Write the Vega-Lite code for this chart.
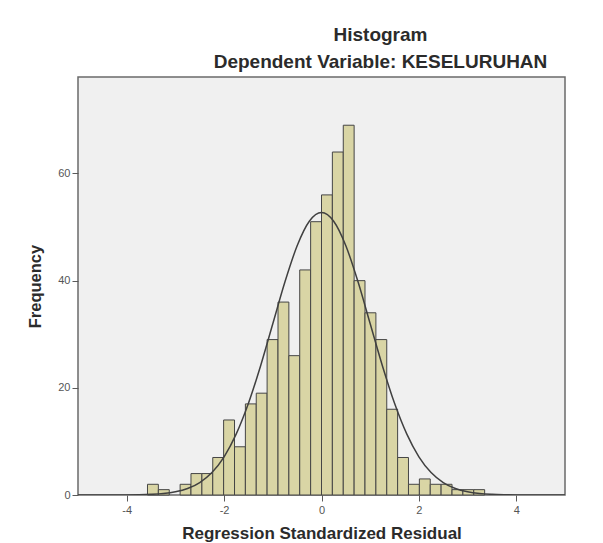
{
  "$schema": "https://vega.github.io/schema/vega-lite/v6.json",
  "width": 487,
  "height": 418,
  "autosize": "none",
  "padding": {"left": 78, "top": 77, "right": 38, "bottom": 48},
  "background": "#ffffff",
  "title": {
    "text": "Histogram",
    "subtitle": "Dependent Variable: KESELURUHAN",
    "anchor": "middle",
    "frame": "group",
    "dx": 59,
    "offset": 5,
    "font": "Liberation Sans",
    "fontSize": 19,
    "fontWeight": "bold",
    "color": "#2b2b2b",
    "subtitleFont": "Liberation Sans",
    "subtitleFontSize": 19,
    "subtitleFontWeight": "bold",
    "subtitleColor": "#2b2b2b",
    "subtitlePadding": 8
  },
  "config": {
    "font": "Liberation Sans",
    "view": {"stroke": "#6a6a6a", "strokeWidth": 1.5, "fill": "#f0f0f0"},
    "axis": {
      "grid": false,
      "domain": false,
      "tickColor": "#5a5a5a",
      "tickSize": 6,
      "labelColor": "#555555",
      "labelFontSize": 11,
      "titleColor": "#2b2b2b",
      "titleFontWeight": "bold"
    }
  },
  "datasets": {
    "bins": [
      {"bin_start": -3.573, "bin_end": -3.350, "count": 2},
      {"bin_start": -3.350, "bin_end": -3.126, "count": 1},
      {"bin_start": -2.903, "bin_end": -2.680, "count": 2},
      {"bin_start": -2.680, "bin_end": -2.456, "count": 4},
      {"bin_start": -2.456, "bin_end": -2.233, "count": 4},
      {"bin_start": -2.233, "bin_end": -2.010, "count": 7},
      {"bin_start": -2.010, "bin_end": -1.786, "count": 14},
      {"bin_start": -1.786, "bin_end": -1.563, "count": 9},
      {"bin_start": -1.563, "bin_end": -1.340, "count": 17},
      {"bin_start": -1.340, "bin_end": -1.117, "count": 19},
      {"bin_start": -1.117, "bin_end": -0.893, "count": 29},
      {"bin_start": -0.893, "bin_end": -0.670, "count": 36},
      {"bin_start": -0.670, "bin_end": -0.447, "count": 26},
      {"bin_start": -0.447, "bin_end": -0.223, "count": 42},
      {"bin_start": -0.223, "bin_end": 0.000, "count": 51},
      {"bin_start": 0.000, "bin_end": 0.223, "count": 56},
      {"bin_start": 0.223, "bin_end": 0.447, "count": 64},
      {"bin_start": 0.447, "bin_end": 0.670, "count": 69},
      {"bin_start": 0.670, "bin_end": 0.893, "count": 40},
      {"bin_start": 0.893, "bin_end": 1.117, "count": 34},
      {"bin_start": 1.117, "bin_end": 1.340, "count": 29},
      {"bin_start": 1.340, "bin_end": 1.563, "count": 16},
      {"bin_start": 1.563, "bin_end": 1.786, "count": 7},
      {"bin_start": 1.786, "bin_end": 2.010, "count": 2},
      {"bin_start": 2.010, "bin_end": 2.233, "count": 3},
      {"bin_start": 2.233, "bin_end": 2.456, "count": 2},
      {"bin_start": 2.456, "bin_end": 2.680, "count": 2},
      {"bin_start": 2.680, "bin_end": 2.903, "count": 1},
      {"bin_start": 2.903, "bin_end": 3.126, "count": 1},
      {"bin_start": 3.126, "bin_end": 3.350, "count": 1}
    ],
    "curve": [
      {"x": -5.0, "y": 0.0},
      {"x": -4.5, "y": 0.0},
      {"x": -4.0, "y": 0.02},
      {"x": -3.75, "y": 0.05},
      {"x": -3.5, "y": 0.12},
      {"x": -3.25, "y": 0.27},
      {"x": -3.0, "y": 0.59},
      {"x": -2.75, "y": 1.20},
      {"x": -2.5, "y": 2.32},
      {"x": -2.25, "y": 4.19},
      {"x": -2.0, "y": 7.13},
      {"x": -1.75, "y": 11.40},
      {"x": -1.5, "y": 17.11},
      {"x": -1.25, "y": 24.13},
      {"x": -1.0, "y": 31.96},
      {"x": -0.75, "y": 39.78},
      {"x": -0.5, "y": 46.51},
      {"x": -0.25, "y": 51.08},
      {"x": 0.0, "y": 52.70},
      {"x": 0.25, "y": 51.08},
      {"x": 0.5, "y": 46.51},
      {"x": 0.75, "y": 39.78},
      {"x": 1.0, "y": 31.96},
      {"x": 1.25, "y": 24.13},
      {"x": 1.5, "y": 17.11},
      {"x": 1.75, "y": 11.40},
      {"x": 2.0, "y": 7.13},
      {"x": 2.25, "y": 4.19},
      {"x": 2.5, "y": 2.32},
      {"x": 2.75, "y": 1.20},
      {"x": 3.0, "y": 0.59},
      {"x": 3.25, "y": 0.27},
      {"x": 3.5, "y": 0.12},
      {"x": 3.75, "y": 0.05},
      {"x": 4.0, "y": 0.02},
      {"x": 4.5, "y": 0.0},
      {"x": 5.0, "y": 0.0}
    ]
  },
  "layer": [
    {
      "data": {"name": "bins"},
      "mark": {"type": "rect", "fill": "#d9d5a5", "stroke": "#454545", "strokeWidth": 1},
      "encoding": {
        "x": {
          "field": "bin_start",
          "type": "quantitative",
          "scale": {"domain": [-5, 5], "nice": false, "zero": false},
          "axis": {
            "values": [-4, -2, 0, 2, 4],
            "labelExpr": "replace(datum.label, '\u2212', '-')",
            "title": "Regression Standardized Residual",
            "titleFontSize": 17,
            "titlePadding": 10,
            "labelPadding": 3
          }
        },
        "x2": {"field": "bin_end"},
        "y": {
          "field": "count",
          "type": "quantitative",
          "scale": {"domain": [0, 78], "nice": false},
          "axis": {
            "values": [0, 20, 40, 60],
            "title": "Frequency",
            "titleFontSize": 16.5,
            "titlePadding": 14,
            "labelPadding": 2
          }
        },
        "y2": {"datum": 0}
      }
    },
    {
      "data": {"name": "curve"},
      "mark": {"type": "line", "stroke": "#404040", "strokeWidth": 1.5, "interpolate": "monotone", "clip": true},
      "encoding": {
        "x": {"field": "x", "type": "quantitative"},
        "y": {"field": "y", "type": "quantitative"}
      }
    }
  ]
}
